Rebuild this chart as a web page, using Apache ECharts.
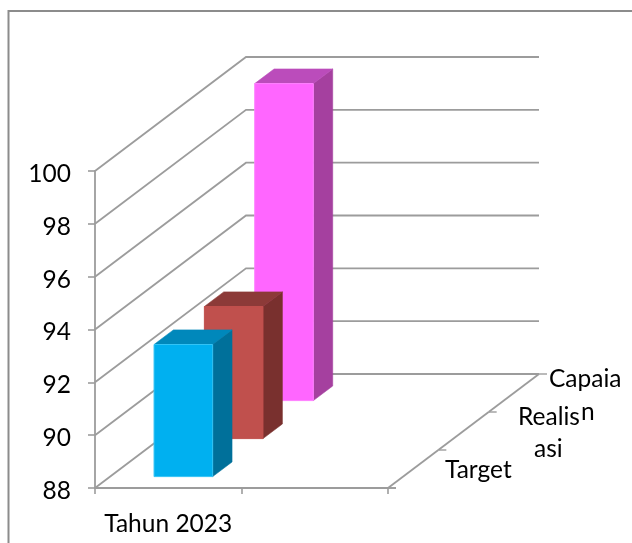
<!DOCTYPE html>
<html>
<head>
<meta charset="utf-8">
<style>html,body{margin:0;padding:0;background:#fff}#c{width:632px;height:543px}</style>
<script src="https://cdn.jsdelivr.net/npm/echarts@6/dist/echarts.min.js"></script>
</head>
<body>
<div id="c"></div>
<script>
var categories = ['Tahun 2023', ''];
var valueTicks = [88, 90, 92, 94, 96, 98, 100];
var depthLabels = ['Target', 'Realisasi', 'Capaian'];
var targetValues = [93];
var realisasiValues = [93];
var capaianValues = [100];

var FONT = 'Lato';
var FONT_SIZE = 24.5;
var TEXT_COLOR = '#000';
var GRID_COLOR = '#9c9c9c';
var DEPTH_DX = 151, DEPTH_DY = 114, DEPTH_N = depthLabels.length;
var FRONT = 0.3, THICK = 0.385, BAR_W = 0.4;

function off(d) { return [d * DEPTH_DX / DEPTH_N, -d * DEPTH_DY / DEPTH_N]; }

function poly(pts, fill) {
  return { type: 'polygon', shape: { points: pts }, style: { fill: fill, stroke: fill, lineWidth: 0.6 } };
}

function barSeries(name, values, depth, colors) {
  return {
    name: name, type: 'custom', z: 10 - depth,
    data: values.map(function (v, i) { return [i, v]; }),
    encode: { x: 0, y: 1 },
    renderItem: function (params, api) {
      var top = api.coord([api.value(0), api.value(1)]);
      var base = api.coord([api.value(0), valueTicks[0]]);
      var w = api.size([1, 0])[0] * BAR_W;
      var o = off(depth + FRONT), t = off(THICK);
      var l = top[0] + o[0] - w / 2, r = l + w;
      var yt = top[1] + o[1], yb = base[1] + o[1];
      return { type: 'group', children: [
        poly([[r, yt], [r + t[0], yt + t[1]], [r + t[0], yb + t[1]], [r, yb]], colors[1]),
        poly([[l, yt], [l + t[0], yt + t[1]], [r + t[0], yt + t[1]], [r, yt]], colors[2]),
        { type: 'rect', shape: { x: l, y: yt, width: w, height: yb - yt },
          style: { fill: colors[0], stroke: colors[3], lineWidth: 1 } }
      ] };
    }
  };
}

var wallSeries = {
  type: 'custom', z: 1, silent: true,
  data: valueTicks.map(function (v) { return [0, v]; }),
  encode: { y: 1 },
  renderItem: function (params, api) {
    var p = api.coord([0, api.value(1)]);
    var band = api.size([1, 0])[0];
    var x0 = p[0] - band / 2;
    var b = off(DEPTH_N);
    return { type: 'polyline',
      shape: { points: [[x0, p[1]], [x0 + b[0], p[1] + b[1]], [x0 + band * categories.length + b[0], p[1] + b[1]]] },
      style: { fill: null, stroke: GRID_COLOR, lineWidth: 1.8 } };
  }
};

var floorSeries = {
  type: 'custom', z: 1, silent: true,
  data: depthLabels.map(function (n, i) { return [i + 1, valueTicks[0]]; }),
  encode: { y: 1 },
  renderItem: function (params, api) {
    var p = api.coord([0, valueTicks[0]]);
    var band = api.size([1, 0])[0];
    var xr = p[0] - band / 2 + band * categories.length;
    var o = off(api.value(0)), s = off(api.value(0) - 1);
    return { type: 'group', children: [
      { type: 'line', shape: { x1: xr + s[0], y1: p[1] + s[1], x2: xr + o[0], y2: p[1] + o[1] },
        style: { stroke: GRID_COLOR, lineWidth: 1.8 } },
      { type: 'line', shape: { x1: xr + o[0], y1: p[1] + o[1], x2: xr + o[0] + 8, y2: p[1] + o[1] },
        style: { stroke: GRID_COLOR, lineWidth: 1.4 } },
      { type: 'line', shape: { x1: xr, y1: p[1], x2: xr + 8, y2: p[1] },
        style: { stroke: GRID_COLOR, lineWidth: 1.4 } }
    ] };
  }
};

function depthText(t, x, y) {
  return { type: 'text', x: x, y: y, style: { text: t, font: FONT_SIZE + 'px ' + FONT, fill: TEXT_COLOR, textVerticalAlign: 'middle' } };
}

var chart = echarts.init(document.getElementById('c'), null, { renderer: 'canvas' });
chart.setOption({
  animation: false,
  backgroundColor: '#fff',
  graphic: [
    { type: 'rect', shape: { x: 8.5, y: 11, width: 640, height: 560 }, style: { fill: null, stroke: '#8c8c8c', lineWidth: 2 }, silent: true, z: -1 },
    depthText('Capaia', 549, 379),
    depthText('n', 581, 412),
    depthText('Realis', 518, 417),
    depthText('asi', 534, 449),
    depthText('Target', 445, 470)
  ],
  grid: { left: 95, right: 244, top: 171, bottom: 55 },
  xAxis: {
    type: 'category', data: categories, boundaryGap: true,
    axisLine: { show: true, lineStyle: { color: GRID_COLOR, width: 1.8 } },
    axisTick: { show: true, alignWithLabel: false, length: 6, lineStyle: { color: GRID_COLOR, width: 1.6 } },
    axisLabel: { interval: 0, color: TEXT_COLOR, fontFamily: FONT, fontSize: FONT_SIZE, margin: 24 }
  },
  yAxis: {
    type: 'value', min: 88, max: 100, interval: 2,
    axisLine: { show: true, lineStyle: { color: GRID_COLOR, width: 1.8 } },
    axisTick: { show: true, length: 7, lineStyle: { color: GRID_COLOR, width: 1.6 } },
    splitLine: { show: false },
    axisLabel: { color: TEXT_COLOR, fontFamily: FONT, fontSize: FONT_SIZE, margin: 24, verticalAlign: 'top', lineHeight: 6 }
  },
  series: [
    wallSeries, floorSeries,
    barSeries(depthLabels[2], capaianValues, 2, ['#ff66ff', '#a5409f', '#bb4cbb', '#ff80ff']),
    barSeries(depthLabels[1], realisasiValues, 1, ['#c0504d', '#79302e', '#8c3a38', '#c0504d']),
    barSeries(depthLabels[0], targetValues, 0, ['#00b0f0', '#00709a', '#0088bb', '#33c4f5'])
  ]
});
</script>
</body>
</html>
